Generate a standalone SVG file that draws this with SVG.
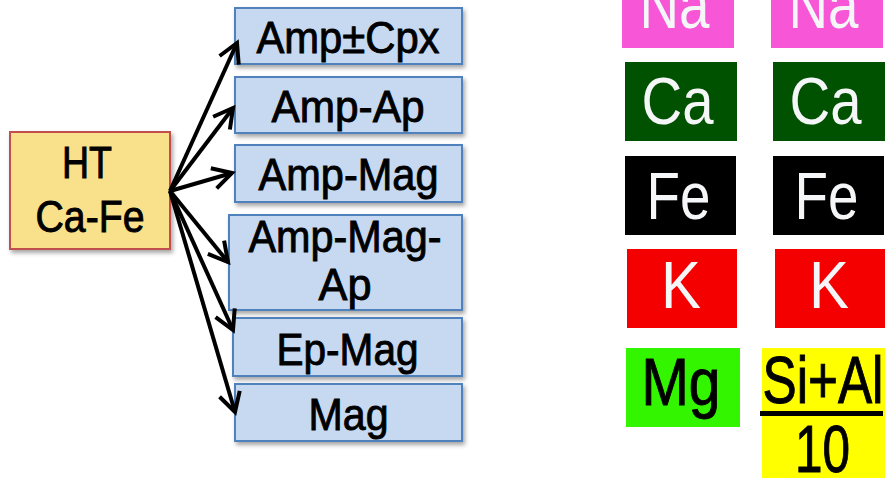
<svg xmlns="http://www.w3.org/2000/svg" width="885" height="478" viewBox="0 0 885 478">
<style>
.box{fill:#C6D9F1;stroke:#4F81BD;stroke-width:2}
.src{fill:#F9E18B;stroke:#C0504D;stroke-width:2}
.t{font-family:"Liberation Sans Narrow","Liberation Sans",Arial,sans-serif;font-size:44px;fill:#000;stroke:#000;stroke-width:0.9px;text-anchor:middle}
.e{font-family:"Liberation Sans Narrow","Liberation Sans",Arial,sans-serif;font-size:67px;text-anchor:middle}
.w{fill:#F5F6F8}
.k{fill:#000}
.c{fill:none;stroke:#000;stroke-width:4}
</style>
<defs>
<filter id="sh" x="-10%" y="-10%" width="130%" height="140%">
<feDropShadow dx="2" dy="3" stdDeviation="2" flood-color="#000" flood-opacity="0.35"/>
</filter>
<marker id="ah" markerUnits="userSpaceOnUse" viewBox="0 0 26 26" markerWidth="26" markerHeight="26" refX="22" refY="13" orient="auto">
<path d="M3,2.5 L22,13 L3,23.5" fill="none" stroke="#000" stroke-width="4" stroke-linejoin="miter"/>
</marker>
</defs>

<g id="ht">
<rect class="src" x="10" y="132" width="160" height="117" filter="url(#sh)"/>
<text class="t" x="87" y="178" textLength="50" lengthAdjust="spacingAndGlyphs">HT</text>
<text class="t" x="90" y="232" textLength="109" lengthAdjust="spacingAndGlyphs">Ca-Fe</text>
</g>

<g id="n1">
<rect class="box" x="235" y="8" width="227" height="56" filter="url(#sh)"/>
<text class="t" x="348" y="53" textLength="183" lengthAdjust="spacingAndGlyphs">Amp±Cpx</text>
</g>
<g id="n2">
<rect class="box" x="235" y="77" width="227" height="56" filter="url(#sh)"/>
<text class="t" x="348" y="122" textLength="153" lengthAdjust="spacingAndGlyphs">Amp-Ap</text>
</g>
<g id="n3">
<rect class="box" x="235" y="145" width="227" height="57" filter="url(#sh)"/>
<text class="t" x="348.5" y="190" textLength="180" lengthAdjust="spacingAndGlyphs">Amp-Mag</text>
</g>
<g id="n4">
<rect class="box" x="229" y="215" width="233" height="95" filter="url(#sh)"/>
<text class="t" x="345" y="252" textLength="193" lengthAdjust="spacingAndGlyphs">Amp-Mag-</text>
<text class="t" x="345" y="300" textLength="53" lengthAdjust="spacingAndGlyphs">Ap</text>
</g>
<g id="n5">
<rect class="box" x="233" y="318" width="229" height="58" filter="url(#sh)"/>
<text class="t" x="347.5" y="365" textLength="142" lengthAdjust="spacingAndGlyphs">Ep-Mag</text>
</g>
<g id="n6">
<rect class="box" x="235" y="384" width="227" height="57" filter="url(#sh)"/>
<text class="t" x="348.5" y="430" textLength="80" lengthAdjust="spacingAndGlyphs">Mag</text>
</g>

<g id="connectors">
<line class="c" x1="170" y1="191" x2="237" y2="43" marker-end="url(#ah)"/>
<line class="c" x1="170" y1="191" x2="233" y2="108" marker-end="url(#ah)"/>
<line class="c" x1="170" y1="191" x2="232" y2="173" marker-end="url(#ah)"/>
<line class="c" x1="170" y1="191" x2="228" y2="262" marker-end="url(#ah)"/>
<line class="c" x1="170" y1="191" x2="233" y2="330" marker-end="url(#ah)"/>
<line class="c" x1="170" y1="191" x2="235" y2="412" marker-end="url(#ah)"/>
</g>

<g id="legend">
<rect x="622" y="-31" width="112" height="79" fill="#F756D6"/>
<text class="e w" x="674.5" y="28" textLength="70" lengthAdjust="spacingAndGlyphs">Na</text>
<rect x="771" y="-31" width="112" height="79" fill="#F756D6"/>
<text class="e w" x="823.5" y="28" textLength="70" lengthAdjust="spacingAndGlyphs">Na</text>

<rect x="625" y="62" width="112" height="79" fill="#005200"/>
<text class="e w" x="677.5" y="124" textLength="72" lengthAdjust="spacingAndGlyphs">Ca</text>
<rect x="773" y="62" width="112" height="79" fill="#005200"/>
<text class="e w" x="825.5" y="124" textLength="72" lengthAdjust="spacingAndGlyphs">Ca</text>

<rect x="625" y="156" width="111" height="79" fill="#000"/>
<text class="e w" x="678.5" y="219" textLength="64" lengthAdjust="spacingAndGlyphs">Fe</text>
<rect x="773" y="156" width="111" height="79" fill="#000"/>
<text class="e w" x="826.5" y="219" textLength="64" lengthAdjust="spacingAndGlyphs">Fe</text>

<rect x="627" y="249" width="110" height="79" fill="#F50000"/>
<text class="e w" x="681" y="308" textLength="40" lengthAdjust="spacingAndGlyphs">K</text>
<rect x="775" y="249" width="110" height="79" fill="#F50000"/>
<text class="e w" x="829" y="308" textLength="40" lengthAdjust="spacingAndGlyphs">K</text>

<rect x="626" y="348" width="114" height="79" fill="#33F500"/>
<text class="e k" x="681" y="405" stroke="#000" stroke-width="1" textLength="79" lengthAdjust="spacingAndGlyphs">Mg</text>

<rect x="762" y="348" width="123" height="130" fill="#FFFF00"/>
<text class="e k" x="823" y="403" stroke="#000" stroke-width="1" textLength="121" lengthAdjust="spacingAndGlyphs">Si+Al</text>
<rect x="760" y="411" width="123" height="5" fill="#000"/>
<text class="e k" x="822.5" y="472" stroke="#000" stroke-width="1" textLength="55" lengthAdjust="spacingAndGlyphs">10</text>
</g>
</svg>
